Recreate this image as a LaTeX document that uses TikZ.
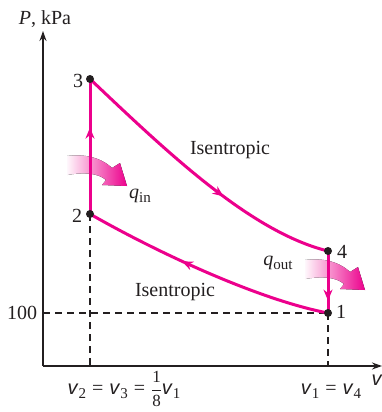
\documentclass[tikz,border=0pt]{standalone}
\usepackage{fontspec}
\usepackage{amsmath}
\setmainfont{Liberation Serif}
\setsansfont{Liberation Sans}
\usetikzlibrary{arrows.meta,decorations.markings}
\definecolor{mag}{RGB}{236,0,140}
\definecolor{ink}{RGB}{35,31,32}
\newcommand{\vsym}{\textsf{\itshape v}}
\newcommand{\vsub}[1]{\vsym\raisebox{-0.45ex}{\fontsize{15}{15}\selectfont #1}}
\newcommand{\qsub}[1]{\textit{q}\raisebox{-0.45ex}{\fontsize{15}{15}\selectfont #1}}
\newcommand{\eqs}{\hspace{0.3em}=\hspace{0.3em}}
\tikzset{
  cycleline/.style={mag, line width=3pt},
  dot/.style={circle, fill=ink, inner sep=0pt, minimum size=8pt},
  lbl/.style={inner sep=0pt, text=ink},
  guide/.style={ink, line width=1.2pt, dash pattern=on 7pt off 5pt},
  axis/.style={ink, line width=1.5pt},
  midarrow/.style={postaction=decorate, decoration={markings,
    mark=at position #1 with {\arrow{Stealth[length=11pt,width=9pt]}}}},
  heatarrow/.style={left color=mag!3, right color=mag, draw=none},
  heat/.pic={\fill[heatarrow] (-3,0) .. controls (20,-3) and (35,5) .. (42,12)
      -- (50,7) -- (57,30) -- (32,29) -- (36,24)
      .. controls (28,17) and (14,16) .. (-3,19) -- cycle;}
}
\begin{document}
\begin{tikzpicture}[x=1pt,y=-1pt, font=\fontsize{20}{24}\selectfont]
\useasboundingbox (0,0) rectangle (382,412);
% axes
\coordinate (o) at (43,366);
\coordinate (ytip) at (43,31);
\coordinate (xtip) at (382,366);
\draw[axis, -{Stealth[length=10pt,width=7pt]}] (o) -- (ytip);
\draw[axis, -{Stealth[length=10pt,width=7pt]}] (o) -- (xtip);
% state points
\coordinate (p3) at (90,79);
\coordinate (p2) at (90,214);
\coordinate (p4) at (328,251);
\coordinate (p1) at (328,313);
\coordinate (t100) at (43,313);
\coordinate (b2) at (90,366);
\coordinate (b1) at (328,366);
% guides
\draw[guide] (t100) -- (p1);
\draw[guide] (p2) -- (b2);
\draw[guide] (p1) -- (b1);
% heat arrows
\pic at (70,156) {heat};
\pic at (308,260) {heat};
% cycle
\draw[cycleline, midarrow=0.64] (p2) -- (p3);
\draw[cycleline, midarrow=0.6] (p3) .. controls (165,150) and (250,232) .. (p4);
\draw[cycleline, midarrow=0.8] (p4) -- (p1);
\draw[cycleline, midarrow=0.6] (p1) .. controls (260,300) and (160,254) .. (p2);
\foreach \p in {p1,p2,p3,p4} \node[dot] at (\p) {};
% labels
\node[lbl] (ylab) at (45,19) {\textit{P}, kPa};
\node[lbl] (l3) at (78,81) {3};
\node[lbl] (l2) at (77,216) {2};
\node[lbl] (l4) at (342,252) {4};
\node[lbl] (l1) at (341,312) {1};
\node[lbl] (l100) at (22,313) {100};
\node[lbl] (isu) at (230,150) {Isentropic};
\node[lbl] (isl) at (175,292) {Isentropic};
\node[lbl] (qin) at (140,196) {\qsub{in}};
\node[lbl] (qout) at (278,263) {\qsub{out}};
\node[lbl] (vl) at (124,389) {\vsub{2}\eqs\vsub{3}\eqs{\fontsize{17}{17}\selectfont$\dfrac{\text{1}}{\text{8}}$}\vsub{1}};
\node[lbl] (vr) at (331,391) {\vsub{1}\eqs\vsub{4}};
\node[lbl] (vax) at (377,380) {\vsym};
\end{tikzpicture}
\end{document}
